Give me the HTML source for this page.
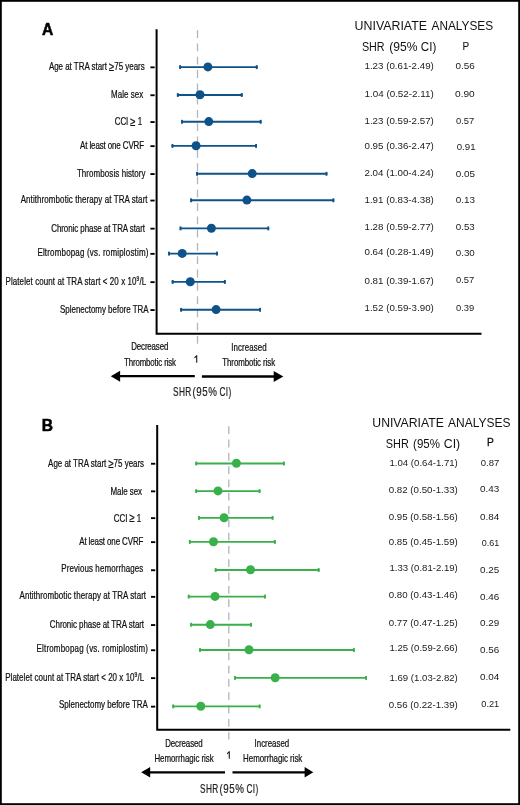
<!DOCTYPE html>
<html><head><meta charset="utf-8"><title>Forest plot</title>
<style>
html,body{margin:0;padding:0;background:#fff;}
svg{display:block;will-change:transform;}
text{font-family:"Liberation Sans", sans-serif;}
</style></head>
<body>
<svg width="520" height="805" viewBox="0 0 520 805">
<rect x="0.9" y="0.9" width="518.2" height="803.2" fill="#fff" stroke="#000" stroke-width="1.8"/>
<text x="41.90" y="34.60" font-size="15.6" fill="#000" font-weight="bold" stroke="#000" stroke-width="0.5">A</text>
<line x1="197.5" y1="30.2" x2="197.5" y2="343.8" stroke="#b4b4bc" stroke-width="1.3" stroke-dasharray="7.8 5.5"/>
<path d="M156.6 29.2 V333.85 H481.5" fill="none" stroke="#000" stroke-width="2"/>
<text transform="translate(48.90 70.30) scale(0.76 1)" font-size="10.5" fill="#111" textLength="126.05" lengthAdjust="spacing" stroke="#111" stroke-width="0.24">Age at TRA start <tspan font-size="12.5" dy="0.9">≥</tspan><tspan dy="-0.9">75 years</tspan></text>
<line x1="150.40" y1="67.35" x2="154.65" y2="67.35" stroke="#000" stroke-width="1.85"/>
<line x1="179.2" y1="67.1" x2="257.7" y2="67.1" stroke="#0e5288" stroke-width="1.9"/>
<rect x="179.20" y="65.15" width="1.9" height="3.9" fill="#0e5288"/>
<rect x="255.80" y="65.15" width="1.9" height="3.9" fill="#0e5288"/>
<circle cx="207.9" cy="66.89999999999999" r="4.5" fill="#0e5288"/>
<text transform="translate(111.00 97.70) scale(0.76 1)" font-size="10.5" fill="#111" textLength="42.50" lengthAdjust="spacing" stroke="#111" stroke-width="0.24">Male sex</text>
<line x1="150.40" y1="95.25" x2="154.65" y2="95.25" stroke="#000" stroke-width="1.85"/>
<line x1="176.9" y1="95.0" x2="242.7" y2="95.0" stroke="#0e5288" stroke-width="1.9"/>
<rect x="176.90" y="93.05" width="1.9" height="3.9" fill="#0e5288"/>
<rect x="240.80" y="93.05" width="1.9" height="3.9" fill="#0e5288"/>
<circle cx="200.0" cy="94.8" r="4.5" fill="#0e5288"/>
<text transform="translate(114.70 125.10) scale(0.76 1)" font-size="10.5" fill="#111" textLength="36.05" lengthAdjust="spacing" stroke="#111" stroke-width="0.24">CCI <tspan font-size="12.5" dy="0.9">≥</tspan><tspan dy="-0.9"> 1</tspan></text>
<line x1="150.40" y1="122.05" x2="154.65" y2="122.05" stroke="#000" stroke-width="1.85"/>
<line x1="181.1" y1="121.8" x2="261.6" y2="121.8" stroke="#0e5288" stroke-width="1.9"/>
<rect x="181.10" y="119.85" width="1.9" height="3.9" fill="#0e5288"/>
<rect x="259.70" y="119.85" width="1.9" height="3.9" fill="#0e5288"/>
<circle cx="208.8" cy="121.6" r="4.5" fill="#0e5288"/>
<text transform="translate(80.10 149.00) scale(0.76 1)" font-size="10.5" fill="#111" textLength="84.21" lengthAdjust="spacing" stroke="#111" stroke-width="0.24">At least one CVRF</text>
<line x1="150.40" y1="146.15" x2="154.65" y2="146.15" stroke="#000" stroke-width="1.85"/>
<line x1="171.5" y1="145.9" x2="257.0" y2="145.9" stroke="#0e5288" stroke-width="1.9"/>
<rect x="171.50" y="143.95" width="1.9" height="3.9" fill="#0e5288"/>
<rect x="255.10" y="143.95" width="1.9" height="3.9" fill="#0e5288"/>
<circle cx="196.1" cy="145.70000000000002" r="4.5" fill="#0e5288"/>
<text transform="translate(76.90 176.70) scale(0.76 1)" font-size="10.5" fill="#111" textLength="90.39" lengthAdjust="spacing" stroke="#111" stroke-width="0.24">Thrombosis history</text>
<line x1="150.40" y1="174.05" x2="154.65" y2="174.05" stroke="#000" stroke-width="1.85"/>
<line x1="196.1" y1="173.8" x2="327.4" y2="173.8" stroke="#0e5288" stroke-width="1.9"/>
<rect x="196.10" y="171.85" width="1.9" height="3.9" fill="#0e5288"/>
<rect x="325.50" y="171.85" width="1.9" height="3.9" fill="#0e5288"/>
<circle cx="252.2" cy="173.60000000000002" r="4.5" fill="#0e5288"/>
<text transform="translate(20.70 202.70) scale(0.76 1)" font-size="10.5" fill="#111" textLength="166.97" lengthAdjust="spacing" stroke="#111" stroke-width="0.24">Antithrombotic therapy at TRA start</text>
<line x1="150.40" y1="200.55" x2="154.65" y2="200.55" stroke="#000" stroke-width="1.85"/>
<line x1="190.2" y1="200.3" x2="334.3" y2="200.3" stroke="#0e5288" stroke-width="1.9"/>
<rect x="190.20" y="198.35" width="1.9" height="3.9" fill="#0e5288"/>
<rect x="332.40" y="198.35" width="1.9" height="3.9" fill="#0e5288"/>
<circle cx="246.9" cy="200.10000000000002" r="4.5" fill="#0e5288"/>
<text transform="translate(51.20 232.10) scale(0.76 1)" font-size="10.5" fill="#111" textLength="123.42" lengthAdjust="spacing" stroke="#111" stroke-width="0.24">Chronic phase at TRA start</text>
<line x1="150.40" y1="228.65" x2="154.65" y2="228.65" stroke="#000" stroke-width="1.85"/>
<line x1="179.6" y1="228.4" x2="269.2" y2="228.4" stroke="#0e5288" stroke-width="1.9"/>
<rect x="179.60" y="226.45" width="1.9" height="3.9" fill="#0e5288"/>
<rect x="267.30" y="226.45" width="1.9" height="3.9" fill="#0e5288"/>
<circle cx="211.4" cy="228.20000000000002" r="4.5" fill="#0e5288"/>
<text transform="translate(37.40 256.00) scale(0.76 1)" font-size="10.5" fill="#111" textLength="146.05" lengthAdjust="spacing" stroke="#111" stroke-width="0.24">Eltrombopag (vs. romiplostim)</text>
<line x1="150.40" y1="253.85" x2="154.65" y2="253.85" stroke="#000" stroke-width="1.85"/>
<line x1="168.1" y1="253.6" x2="217.9" y2="253.6" stroke="#0e5288" stroke-width="1.9"/>
<rect x="168.10" y="251.65" width="1.9" height="3.9" fill="#0e5288"/>
<rect x="216.00" y="251.65" width="1.9" height="3.9" fill="#0e5288"/>
<circle cx="182.2" cy="253.4" r="4.5" fill="#0e5288"/>
<text transform="translate(5.50 285.00) scale(0.76 1)" font-size="10.5" fill="#111" textLength="185.13" lengthAdjust="spacing" stroke="#111" stroke-width="0.24">Platelet count at TRA start &lt; 20 x 10<tspan font-size="6.5" dy="-3.6">9</tspan><tspan dy="3.6">/L</tspan></text>
<line x1="150.40" y1="282.15" x2="154.65" y2="282.15" stroke="#000" stroke-width="1.85"/>
<line x1="171.7" y1="281.9" x2="225.8" y2="281.9" stroke="#0e5288" stroke-width="1.9"/>
<rect x="171.70" y="279.95" width="1.9" height="3.9" fill="#0e5288"/>
<rect x="223.90" y="279.95" width="1.9" height="3.9" fill="#0e5288"/>
<circle cx="190.3" cy="281.7" r="4.5" fill="#0e5288"/>
<text transform="translate(60.00 312.70) scale(0.76 1)" font-size="10.5" fill="#111" textLength="116.58" lengthAdjust="spacing" stroke="#111" stroke-width="0.24">Splenectomy before TRA</text>
<line x1="150.40" y1="310.05" x2="154.65" y2="310.05" stroke="#000" stroke-width="1.85"/>
<line x1="180.2" y1="309.8" x2="261.0" y2="309.8" stroke="#0e5288" stroke-width="1.9"/>
<rect x="180.20" y="307.85" width="1.9" height="3.9" fill="#0e5288"/>
<rect x="259.10" y="307.85" width="1.9" height="3.9" fill="#0e5288"/>
<circle cx="216.1" cy="309.6" r="4.5" fill="#0e5288"/>
<text x="364.50" y="69.25" font-size="9.4" fill="#1a1a1a" font-weight="normal" textLength="69.30" lengthAdjust="spacingAndGlyphs">1.23 (0.61-2.49)</text>
<text x="455.50" y="69.25" font-size="9.4" fill="#1a1a1a" font-weight="normal" textLength="19.30" lengthAdjust="spacingAndGlyphs">0.56</text>
<text x="364.50" y="97.00" font-size="9.4" fill="#1a1a1a" font-weight="normal" textLength="69.30" lengthAdjust="spacingAndGlyphs">1.04 (0.52-2.11)</text>
<text x="455.00" y="97.00" font-size="9.4" fill="#1a1a1a" font-weight="normal" textLength="19.75" lengthAdjust="spacingAndGlyphs">0.90</text>
<text x="364.50" y="123.75" font-size="9.4" fill="#1a1a1a" font-weight="normal" textLength="69.30" lengthAdjust="spacingAndGlyphs">1.23 (0.59-2.57)</text>
<text x="456.00" y="123.75" font-size="9.4" fill="#1a1a1a" font-weight="normal" textLength="18.25" lengthAdjust="spacingAndGlyphs">0.57</text>
<text x="364.50" y="148.75" font-size="9.4" fill="#1a1a1a" font-weight="normal" textLength="69.30" lengthAdjust="spacingAndGlyphs">0.95 (0.36-2.47)</text>
<text x="456.75" y="149.50" font-size="9.4" fill="#1a1a1a" font-weight="normal" textLength="18.75" lengthAdjust="spacingAndGlyphs">0.91</text>
<text x="364.50" y="175.75" font-size="9.4" fill="#1a1a1a" font-weight="normal" textLength="69.30" lengthAdjust="spacingAndGlyphs">2.04 (1.00-4.24)</text>
<text x="455.75" y="176.50" font-size="9.4" fill="#1a1a1a" font-weight="normal" textLength="19.25" lengthAdjust="spacingAndGlyphs">0.05</text>
<text x="364.50" y="202.50" font-size="9.4" fill="#1a1a1a" font-weight="normal" textLength="69.30" lengthAdjust="spacingAndGlyphs">1.91 (0.83-4.38)</text>
<text x="455.75" y="203.25" font-size="9.4" fill="#1a1a1a" font-weight="normal" textLength="19.25" lengthAdjust="spacingAndGlyphs">0.13</text>
<text x="364.50" y="230.00" font-size="9.4" fill="#1a1a1a" font-weight="normal" textLength="69.30" lengthAdjust="spacingAndGlyphs">1.28 (0.59-2.77)</text>
<text x="455.75" y="230.00" font-size="9.4" fill="#1a1a1a" font-weight="normal" textLength="19.00" lengthAdjust="spacingAndGlyphs">0.53</text>
<text x="364.50" y="254.50" font-size="9.4" fill="#1a1a1a" font-weight="normal" textLength="69.30" lengthAdjust="spacingAndGlyphs">0.64 (0.28-1.49)</text>
<text x="455.75" y="256.25" font-size="9.4" fill="#1a1a1a" font-weight="normal" textLength="19.00" lengthAdjust="spacingAndGlyphs">0.30</text>
<text x="364.50" y="283.75" font-size="9.4" fill="#1a1a1a" font-weight="normal" textLength="69.30" lengthAdjust="spacingAndGlyphs">0.81 (0.39-1.67)</text>
<text x="456.00" y="283.00" font-size="9.4" fill="#1a1a1a" font-weight="normal" textLength="18.25" lengthAdjust="spacingAndGlyphs">0.57</text>
<text x="364.50" y="311.25" font-size="9.4" fill="#1a1a1a" font-weight="normal" textLength="69.30" lengthAdjust="spacingAndGlyphs">1.52 (0.59-3.90)</text>
<text x="456.00" y="310.50" font-size="9.4" fill="#1a1a1a" font-weight="normal" textLength="18.25" lengthAdjust="spacingAndGlyphs">0.39</text>
<text x="354.60" y="30.40" font-size="13.3" fill="#111" font-weight="normal" textLength="72.40" lengthAdjust="spacingAndGlyphs">UNIVARIATE</text>
<text x="431.50" y="30.40" font-size="13.3" fill="#111" font-weight="normal" textLength="61.60" lengthAdjust="spacingAndGlyphs">ANALYSES</text>
<text x="361.90" y="51.40" font-size="13.3" fill="#111" font-weight="normal" textLength="22.70" lengthAdjust="spacingAndGlyphs">SHR</text>
<text x="389.20" y="51.40" font-size="13.3" fill="#111" font-weight="normal" textLength="28.20" lengthAdjust="spacingAndGlyphs">(95%</text>
<text x="420.80" y="51.40" font-size="13.3" fill="#111" font-weight="normal" textLength="15.50" lengthAdjust="spacingAndGlyphs">CI)</text>
<text x="462.60" y="50.10" font-size="11.5" fill="#111" font-weight="normal" textLength="6.70" lengthAdjust="spacingAndGlyphs" stroke="#111" stroke-width="0.08">P</text>
<text transform="translate(131.30 350.40) scale(0.76 1)" font-size="10.4" fill="#111" textLength="48.68" lengthAdjust="spacing" stroke="#111" stroke-width="0.24">Decreased</text>
<text transform="translate(124.00 365.80) scale(0.76 1)" font-size="10.4" fill="#111" textLength="68.42" lengthAdjust="spacing" stroke="#111" stroke-width="0.24">Thrombotic risk</text>
<path d="M194.5 357.8 L196.7 355.6 M196.7 355.3 V362.7" fill="none" stroke="#1a1a1a" stroke-width="1.1"/>
<text transform="translate(231.30 351.20) scale(0.76 1)" font-size="10.4" fill="#111" textLength="46.45" lengthAdjust="spacing" stroke="#111" stroke-width="0.24">Increased</text>
<text transform="translate(222.30 366.20) scale(0.76 1)" font-size="10.4" fill="#111" textLength="69.47" lengthAdjust="spacing" stroke="#111" stroke-width="0.24">Thrombotic risk</text>
<line x1="119.6" y1="376.2" x2="194.8" y2="376.2" stroke="#000" stroke-width="2.3"/><path d="M110.8 376.2 L120.1 370.7 L120.1 381.7 Z" fill="#000"/>
<line x1="201.9" y1="376.5" x2="274.2" y2="376.5" stroke="#000" stroke-width="2.3"/><path d="M283.3 376.5 L273.7 371.1 L273.7 381.9 Z" fill="#000"/>
<text transform="translate(173.10 396.00) scale(0.68 1)" font-size="12.2" fill="#222" textLength="26.69" lengthAdjust="spacing" stroke="#222" stroke-width="0.22">SHR</text>
<text transform="translate(192.50 396.00) scale(0.8 1)" font-size="12.2" fill="#222" textLength="30.50" lengthAdjust="spacing" stroke="#222" stroke-width="0.19">(95%</text>
<text transform="translate(219.40 396.00) scale(0.68 1)" font-size="12.2" fill="#222" textLength="17.43" lengthAdjust="spacing" stroke="#222" stroke-width="0.22">CI)</text>
<text x="41.70" y="430.80" font-size="15.6" fill="#000" font-weight="bold" stroke="#000" stroke-width="0.5">B</text>
<line x1="228.8" y1="426.3" x2="228.8" y2="739.5" stroke="#b4b4bc" stroke-width="1.3" stroke-dasharray="7.8 5.5"/>
<path d="M157.2 424.9 V729.8 H510.3" fill="none" stroke="#000" stroke-width="2"/>
<text transform="translate(48.10 466.70) scale(0.76 1)" font-size="10.5" fill="#111" textLength="126.32" lengthAdjust="spacing" stroke="#111" stroke-width="0.24">Age at TRA start <tspan font-size="12.5" dy="0.9">≥</tspan><tspan dy="-0.9">75 years</tspan></text>
<line x1="151.00" y1="463.75" x2="155.25" y2="463.75" stroke="#000" stroke-width="1.85"/>
<line x1="195.3" y1="463.5" x2="284.8" y2="463.5" stroke="#39b04a" stroke-width="1.9"/>
<rect x="195.30" y="461.55" width="1.9" height="3.9" fill="#39b04a"/>
<rect x="282.90" y="461.55" width="1.9" height="3.9" fill="#39b04a"/>
<circle cx="236.4" cy="463.3" r="4.5" fill="#39b04a"/>
<text transform="translate(110.40 494.70) scale(0.76 1)" font-size="10.5" fill="#111" textLength="41.71" lengthAdjust="spacing" stroke="#111" stroke-width="0.24">Male sex</text>
<line x1="151.00" y1="491.35" x2="155.25" y2="491.35" stroke="#000" stroke-width="1.85"/>
<line x1="195.3" y1="491.1" x2="260.5" y2="491.1" stroke="#39b04a" stroke-width="1.9"/>
<rect x="195.30" y="489.15" width="1.9" height="3.9" fill="#39b04a"/>
<rect x="258.60" y="489.15" width="1.9" height="3.9" fill="#39b04a"/>
<circle cx="218.0" cy="490.90000000000003" r="4.5" fill="#39b04a"/>
<text transform="translate(113.80 521.50) scale(0.76 1)" font-size="10.5" fill="#111" textLength="36.05" lengthAdjust="spacing" stroke="#111" stroke-width="0.24">CCI <tspan font-size="12.5" dy="0.9">≥</tspan><tspan dy="-0.9"> 1</tspan></text>
<line x1="151.00" y1="518.15" x2="155.25" y2="518.15" stroke="#000" stroke-width="1.85"/>
<line x1="198.1" y1="517.9" x2="273.5" y2="517.9" stroke="#39b04a" stroke-width="1.9"/>
<rect x="198.10" y="515.95" width="1.9" height="3.9" fill="#39b04a"/>
<rect x="271.60" y="515.95" width="1.9" height="3.9" fill="#39b04a"/>
<circle cx="224.1" cy="517.6999999999999" r="4.5" fill="#39b04a"/>
<text transform="translate(79.20 545.20) scale(0.76 1)" font-size="10.5" fill="#111" textLength="84.61" lengthAdjust="spacing" stroke="#111" stroke-width="0.24">At least one CVRF</text>
<line x1="151.00" y1="542.15" x2="155.25" y2="542.15" stroke="#000" stroke-width="1.85"/>
<line x1="188.9" y1="541.9" x2="275.8" y2="541.9" stroke="#39b04a" stroke-width="1.9"/>
<rect x="188.90" y="539.95" width="1.9" height="3.9" fill="#39b04a"/>
<rect x="273.90" y="539.95" width="1.9" height="3.9" fill="#39b04a"/>
<circle cx="213.5" cy="541.6999999999999" r="4.5" fill="#39b04a"/>
<text transform="translate(61.30 572.30) scale(0.76 1)" font-size="10.5" fill="#111" textLength="107.89" lengthAdjust="spacing" stroke="#111" stroke-width="0.24">Previous hemorrhages</text>
<line x1="151.00" y1="570.25" x2="155.25" y2="570.25" stroke="#000" stroke-width="1.85"/>
<line x1="214.75" y1="570.0" x2="319.6" y2="570.0" stroke="#39b04a" stroke-width="1.9"/>
<rect x="214.75" y="568.05" width="1.9" height="3.9" fill="#39b04a"/>
<rect x="317.70" y="568.05" width="1.9" height="3.9" fill="#39b04a"/>
<circle cx="250.5" cy="569.8" r="4.5" fill="#39b04a"/>
<text transform="translate(19.50 598.80) scale(0.76 1)" font-size="10.5" fill="#111" textLength="166.58" lengthAdjust="spacing" stroke="#111" stroke-width="0.24">Antithrombotic therapy at TRA start</text>
<line x1="151.00" y1="596.85" x2="155.25" y2="596.85" stroke="#000" stroke-width="1.85"/>
<line x1="187.8" y1="596.6" x2="265.9" y2="596.6" stroke="#39b04a" stroke-width="1.9"/>
<rect x="187.80" y="594.65" width="1.9" height="3.9" fill="#39b04a"/>
<rect x="264.00" y="594.65" width="1.9" height="3.9" fill="#39b04a"/>
<circle cx="215.0" cy="596.4" r="4.5" fill="#39b04a"/>
<text transform="translate(49.80 627.70) scale(0.76 1)" font-size="10.5" fill="#111" textLength="124.08" lengthAdjust="spacing" stroke="#111" stroke-width="0.24">Chronic phase at TRA start</text>
<line x1="151.00" y1="625.05" x2="155.25" y2="625.05" stroke="#000" stroke-width="1.85"/>
<line x1="190.2" y1="624.8" x2="251.9" y2="624.8" stroke="#39b04a" stroke-width="1.9"/>
<rect x="190.20" y="622.85" width="1.9" height="3.9" fill="#39b04a"/>
<rect x="250.00" y="622.85" width="1.9" height="3.9" fill="#39b04a"/>
<circle cx="210.3" cy="624.5999999999999" r="4.5" fill="#39b04a"/>
<text transform="translate(36.50 651.60) scale(0.76 1)" font-size="10.5" fill="#111" textLength="146.58" lengthAdjust="spacing" stroke="#111" stroke-width="0.24">Eltrombopag (vs. romiplostim)</text>
<line x1="151.00" y1="650.25" x2="155.25" y2="650.25" stroke="#000" stroke-width="1.85"/>
<line x1="199.1" y1="650.0" x2="354.8" y2="650.0" stroke="#39b04a" stroke-width="1.9"/>
<rect x="199.10" y="648.05" width="1.9" height="3.9" fill="#39b04a"/>
<rect x="352.90" y="648.05" width="1.9" height="3.9" fill="#39b04a"/>
<circle cx="249.0" cy="649.8" r="4.5" fill="#39b04a"/>
<text transform="translate(5.20 680.80) scale(0.76 1)" font-size="10.5" fill="#111" textLength="182.76" lengthAdjust="spacing" stroke="#111" stroke-width="0.24">Platelet count at TRA start &lt; 20 x 10<tspan font-size="6.5" dy="-3.6">9</tspan><tspan dy="3.6">/L</tspan></text>
<line x1="151.00" y1="678.15" x2="155.25" y2="678.15" stroke="#000" stroke-width="1.85"/>
<line x1="234.0" y1="677.9" x2="367.0" y2="677.9" stroke="#39b04a" stroke-width="1.9"/>
<rect x="234.00" y="675.95" width="1.9" height="3.9" fill="#39b04a"/>
<rect x="365.10" y="675.95" width="1.9" height="3.9" fill="#39b04a"/>
<circle cx="275.2" cy="677.6999999999999" r="4.5" fill="#39b04a"/>
<text transform="translate(59.00 708.00) scale(0.76 1)" font-size="10.5" fill="#111" textLength="116.97" lengthAdjust="spacing" stroke="#111" stroke-width="0.24">Splenectomy before TRA</text>
<line x1="151.00" y1="706.65" x2="155.25" y2="706.65" stroke="#000" stroke-width="1.85"/>
<line x1="172.3" y1="706.4" x2="260.5" y2="706.4" stroke="#39b04a" stroke-width="1.9"/>
<rect x="172.30" y="704.45" width="1.9" height="3.9" fill="#39b04a"/>
<rect x="258.60" y="704.45" width="1.9" height="3.9" fill="#39b04a"/>
<circle cx="200.8" cy="706.1999999999999" r="4.5" fill="#39b04a"/>
<text x="389.50" y="465.50" font-size="9.4" fill="#1a1a1a" font-weight="normal" textLength="68.30" lengthAdjust="spacingAndGlyphs">1.04 (0.64-1.71)</text>
<text x="480.75" y="466.25" font-size="9.4" fill="#1a1a1a" font-weight="normal" textLength="18.50" lengthAdjust="spacingAndGlyphs">0.87</text>
<text x="388.75" y="493.00" font-size="9.4" fill="#1a1a1a" font-weight="normal" textLength="69.05" lengthAdjust="spacingAndGlyphs">0.82 (0.50-1.33)</text>
<text x="480.00" y="492.00" font-size="9.4" fill="#1a1a1a" font-weight="normal" textLength="19.25" lengthAdjust="spacingAndGlyphs">0.43</text>
<text x="388.75" y="520.00" font-size="9.4" fill="#1a1a1a" font-weight="normal" textLength="69.05" lengthAdjust="spacingAndGlyphs">0.95 (0.58-1.56)</text>
<text x="480.00" y="519.50" font-size="9.4" fill="#1a1a1a" font-weight="normal" textLength="19.25" lengthAdjust="spacingAndGlyphs">0.84</text>
<text x="388.75" y="544.50" font-size="9.4" fill="#1a1a1a" font-weight="normal" textLength="69.05" lengthAdjust="spacingAndGlyphs">0.85 (0.45-1.59)</text>
<text x="481.75" y="546.25" font-size="9.4" fill="#1a1a1a" font-weight="normal" textLength="17.50" lengthAdjust="spacingAndGlyphs">0.61</text>
<text x="389.50" y="571.25" font-size="9.4" fill="#1a1a1a" font-weight="normal" textLength="68.30" lengthAdjust="spacingAndGlyphs">1.33 (0.81-2.19)</text>
<text x="480.00" y="573.00" font-size="9.4" fill="#1a1a1a" font-weight="normal" textLength="19.25" lengthAdjust="spacingAndGlyphs">0.25</text>
<text x="388.75" y="598.00" font-size="9.4" fill="#1a1a1a" font-weight="normal" textLength="69.05" lengthAdjust="spacingAndGlyphs">0.80 (0.43-1.46)</text>
<text x="480.00" y="599.50" font-size="9.4" fill="#1a1a1a" font-weight="normal" textLength="19.25" lengthAdjust="spacingAndGlyphs">0.46</text>
<text x="388.75" y="626.25" font-size="9.4" fill="#1a1a1a" font-weight="normal" textLength="69.05" lengthAdjust="spacingAndGlyphs">0.77 (0.47-1.25)</text>
<text x="480.00" y="625.50" font-size="9.4" fill="#1a1a1a" font-weight="normal" textLength="19.25" lengthAdjust="spacingAndGlyphs">0.29</text>
<text x="389.50" y="650.75" font-size="9.4" fill="#1a1a1a" font-weight="normal" textLength="68.30" lengthAdjust="spacingAndGlyphs">1.25 (0.59-2.66)</text>
<text x="480.00" y="652.50" font-size="9.4" fill="#1a1a1a" font-weight="normal" textLength="19.25" lengthAdjust="spacingAndGlyphs">0.56</text>
<text x="389.50" y="680.50" font-size="9.4" fill="#1a1a1a" font-weight="normal" textLength="68.30" lengthAdjust="spacingAndGlyphs">1.69 (1.03-2.82)</text>
<text x="480.00" y="680.00" font-size="9.4" fill="#1a1a1a" font-weight="normal" textLength="19.25" lengthAdjust="spacingAndGlyphs">0.04</text>
<text x="388.75" y="707.50" font-size="9.4" fill="#1a1a1a" font-weight="normal" textLength="69.05" lengthAdjust="spacingAndGlyphs">0.56 (0.22-1.39)</text>
<text x="481.25" y="706.75" font-size="9.4" fill="#1a1a1a" font-weight="normal" textLength="18.00" lengthAdjust="spacingAndGlyphs">0.21</text>
<text x="372.30" y="426.50" font-size="13.3" fill="#111" font-weight="normal" textLength="71.60" lengthAdjust="spacingAndGlyphs">UNIVARIATE</text>
<text x="448.10" y="426.50" font-size="13.3" fill="#111" font-weight="normal" textLength="62.50" lengthAdjust="spacingAndGlyphs">ANALYSES</text>
<text x="385.80" y="447.80" font-size="13.3" fill="#111" font-weight="normal" textLength="23.00" lengthAdjust="spacingAndGlyphs">SHR</text>
<text x="413.10" y="447.80" font-size="13.3" fill="#111" font-weight="normal" textLength="26.90" lengthAdjust="spacingAndGlyphs">(95%</text>
<text x="443.80" y="447.80" font-size="13.3" fill="#111" font-weight="normal" textLength="16.40" lengthAdjust="spacingAndGlyphs">CI)</text>
<text x="486.90" y="446.10" font-size="11.5" fill="#111" font-weight="normal" textLength="6.80" lengthAdjust="spacingAndGlyphs" stroke="#111" stroke-width="0.3">P</text>
<text transform="translate(165.20 746.50) scale(0.76 1)" font-size="10.4" fill="#111" textLength="49.34" lengthAdjust="spacing" stroke="#111" stroke-width="0.24">Decreased</text>
<text transform="translate(154.40 762.30) scale(0.76 1)" font-size="10.4" fill="#111" textLength="78.03" lengthAdjust="spacing" stroke="#111" stroke-width="0.24">Hemorrhagic risk</text>
<path d="M227.1 753.8 L229.3 751.6 M229.3 751.3 V758.8" fill="none" stroke="#1a1a1a" stroke-width="1.1"/>
<text transform="translate(254.60 746.90) scale(0.76 1)" font-size="10.4" fill="#111" textLength="45.53" lengthAdjust="spacing" stroke="#111" stroke-width="0.24">Increased</text>
<text transform="translate(243.10 762.30) scale(0.76 1)" font-size="10.4" fill="#111" textLength="77.89" lengthAdjust="spacing" stroke="#111" stroke-width="0.24">Hemorrhagic risk</text>
<line x1="149.7" y1="772.3" x2="225" y2="772.3" stroke="#000" stroke-width="2.3"/><path d="M141.2 772.3 L150.2 767.0 L150.2 777.5999999999999 Z" fill="#000"/>
<line x1="232.5" y1="772.3" x2="305.1" y2="772.3" stroke="#000" stroke-width="2.3"/><path d="M313.3 772.3 L304.6 767.0 L304.6 777.5999999999999 Z" fill="#000"/>
<text transform="translate(200.10 792.90) scale(0.68 1)" font-size="12.2" fill="#222" textLength="26.69" lengthAdjust="spacing" stroke="#222" stroke-width="0.22">SHR</text>
<text transform="translate(219.50 792.90) scale(0.8 1)" font-size="12.2" fill="#222" textLength="30.50" lengthAdjust="spacing" stroke="#222" stroke-width="0.19">(95%</text>
<text transform="translate(246.40 792.90) scale(0.68 1)" font-size="12.2" fill="#222" textLength="17.43" lengthAdjust="spacing" stroke="#222" stroke-width="0.22">CI)</text>
</svg>
</body></html>
